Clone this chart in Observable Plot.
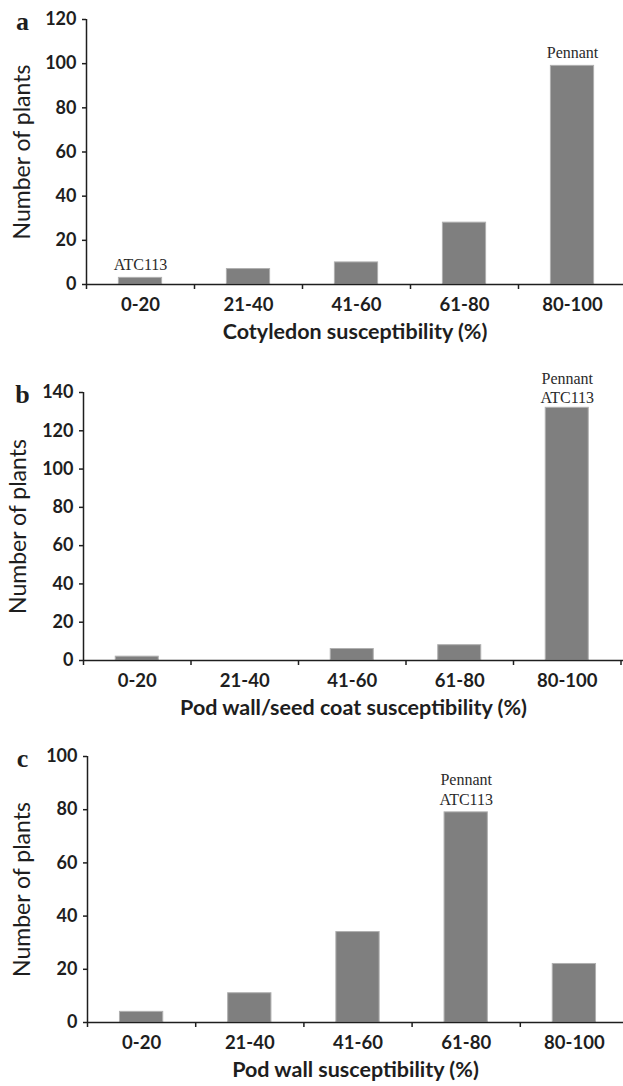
<!DOCTYPE html>
<html><head><meta charset="utf-8">
<script src="https://cdn.jsdelivr.net/npm/d3@7"></script>
<script src="https://cdn.jsdelivr.net/npm/@observablehq/plot@0.6"></script>
<style>
body{margin:0;background:#fff;}
#chart{width:623px;}
#chart svg{display:block;}
</style></head><body><div id="chart"></div>
<script>
const categories = ["0-20", "21-40", "41-60", "61-80", "80-100"];
const cotyledonCounts = [3, 7, 10, 28, 99];
const podSeedCoatCounts = [2, 0, 6, 8, 132];
const podWallCounts = [4, 11, 34, 79, 22];
const yTicksA = [0, 20, 40, 60, 80, 100, 120];
const yTicksB = [0, 20, 40, 60, 80, 100, 120, 140];
const yTicksC = [0, 20, 40, 60, 80, 100];
const annotationsA = [{bin: "0-20", label: "ATC113"}, {bin: "80-100", label: "Pennant"}];
const annotationsB = [{bin: "80-100", label: "Pennant\nATC113"}];
const annotationsC = [{bin: "61-80", label: "Pennant\nATC113"}];
const panelLetters = ["a", "b", "c"];
const xTitles = ["Cotyledon susceptibility (%)", "Pod wall/seed coat susceptibility (%)", "Pod wall susceptibility (%)"];
const yTitle = "Number of plants";

const sans = "Lato, 'Open Sans', sans-serif";
const serif = "'Liberation Serif', 'DejaVu Serif', serif";
const ink = "#1e1e1e";

function panel(o) {
  const data = categories.map((c, i) => ({bin: c, i, n: o.counts[i]}));
  const ann = o.annotations.map(a => {
    const d = data.find(d => d.bin === a.bin);
    return {...a, i: d.i, n: d.n};
  });
  return Plot.plot({
    width: 623, height: o.height,
    marginTop: o.marginTop, marginBottom: o.marginBottom, marginLeft: o.marginLeft, marginRight: 0,
    style: {fontFamily: sans, color: ink, background: "#fff", overflow: "visible"},
    x: {type: "linear", domain: [0, categories.length], range: [o.marginLeft, o.xRight]},
    y: {domain: [0, o.yTicks[o.yTicks.length - 1]]},
    marks: [
      Plot.rectY(data.filter(d => d.n > 0), {x1: d => d.i + 0.3, x2: d => d.i + 0.7, y: "n", fill: "#7f7f7f", stroke: "#b0b0b0", strokeWidth: 1}),
      Plot.ruleX([0], {stroke: ink, strokeWidth: 1.5}),
      Plot.ruleY([0], {stroke: ink, strokeWidth: 1.5}),
      Plot.axisY({ticks: o.yTicks, tickSize: 4, tickPadding: 6, fontSize: 18, fontWeight: "bold", label: null, stroke: ink, strokeWidth: 1.5}),
      Plot.axisX({ticks: d3.range(categories.length + 1), tickSize: 5, tickFormat: () => "", label: null, stroke: ink, strokeWidth: 1.5}),
      Plot.axisX({ticks: categories.map((c, i) => i + 0.5), tickFormat: v => categories[Math.floor(v)], tickSize: 0, tickPadding: 13, fontSize: 18.5, fontWeight: "bold", label: null}),
      Plot.text(ann, {x: d => d.i + 0.5, y: "n", text: "label", lineAnchor: "bottom", dy: o.annDy, lineHeight: o.lineHeight, fontFamily: serif, fontSize: 16, fill: "#2a2a2a"}),
      Plot.text([o.xTitle], {frameAnchor: "bottom", textAnchor: "middle", dy: 48, lineAnchor: "middle", fontSize: 21.5, fontWeight: "bold"}),
      Plot.text([yTitle], {frameAnchor: "left", textAnchor: "middle", rotate: -90, dx: o.yTitleDx, lineAnchor: "middle", fontSize: 23}),
      Plot.text([o.letter], {frameAnchor: "top-left", textAnchor: "middle", dx: 22 - o.marginLeft, dy: 2, lineAnchor: "middle", fontFamily: serif, fontWeight: "bold", fontSize: 26})
    ]
  });
}

const chart = document.getElementById("chart");
chart.append(panel({counts: cotyledonCounts, yTicks: yTicksA, annotations: annotationsA, letter: panelLetters[0], xTitle: xTitles[0],
  height: 345, marginTop: 19, marginBottom: 61, marginLeft: 86, xRight: 626, annDy: -8, lineHeight: 1.2, yTitleDx: -64}));
chart.append(panel({counts: podSeedCoatCounts, yTicks: yTicksB, annotations: annotationsB, letter: panelLetters[1], xTitle: xTitles[1],
  height: 370, marginTop: 47, marginBottom: 55, marginLeft: 83, xRight: 620.5, annDy: -5, lineHeight: 1.15, yTitleDx: -65}));
chart.append(panel({counts: podWallCounts, yTicks: yTicksC, annotations: annotationsC, letter: panelLetters[2], xTitle: xTitles[2],
  height: 371, marginTop: 41, marginBottom: 64, marginLeft: 87, xRight: 628, annDy: -7, lineHeight: 1.3, yTitleDx: -65}));
</script></body></html>
